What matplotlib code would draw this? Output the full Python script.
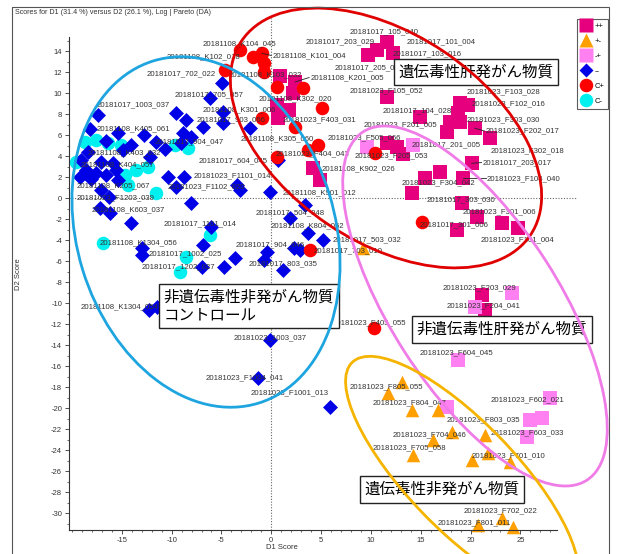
import matplotlib.pyplot as plt
from matplotlib.patches import Ellipse, Rectangle
from matplotlib.transforms import Affine2D
from matplotlib.lines import Line2D
from matplotlib.ticker import FixedLocator

plt.rcParams['font.family'] = ['Liberation Sans', 'DejaVu Sans']
plt.rcParams['axes.unicode_minus'] = False
JP = ['Noto Sans CJK JP', 'DejaVu Sans']

# -----------------------------
# Scores (D1, D2) per class
# -----------------------------
# ++  genotoxic hepatocarcinogens
pp_x = [0.89, 2.40, 2.20, 0.59, 1.80, 0.69, 4.23, 4.90, 10.59, 11.59, 9.75, 12.26,
        11.59, 14.93, 18.95, 19.78, 18.78, 17.94, 17.61, 18.95, 20.45, 21.95, 11.62,
        12.63, 13.23, 16.94, 15.44, 14.10, 19.28, 20.12, 19.12, 20.62, 18.62, 23.13,
        24.79, 21.12, 21.45]
pp_y = [11.65, 11.08, 10.03, 8.89, 8.41, 7.65, 2.86, 1.74, 14.12, 14.91, 13.65, 13.81,
        9.68, 7.77, 9.05, 8.89, 8.10, 7.30, 6.34, 7.30, 6.67, 5.71, 5.27,
        4.89, 4.22, 2.53, 1.90, 0.48, 1.90, 3.33, -0.48, -1.75, -3.02, -2.38,
        -2.86, -9.21, -10.64]

# +-  genotoxic non-carcinogens
pm_x = [11.76, 13.10, 14.10, 16.77, 18.11, 16.27, 14.26, 21.45, 21.79, 20.12, 23.96,
        23.13, 24.29, 20.75, 9.25]
pm_y = [-18.57, -17.47, -20.16, -20.16, -22.23, -23.02, -24.45, -22.54, -24.29, -24.92,
        -25.09, -30.48, -31.28, -31.11, -4.76]

# -+  non-genotoxic hepatocarcinogens
mp_x = [18.78, 27.97, 27.14, 25.97, 25.64, 17.61, 14.26, 9.59, 24.13, 20.45]
mp_y = [-15.40, -19.05, -20.95, -21.11, -22.70, -19.85, 5.08, 4.91, -9.05, -10.32]

# --  non-genotoxic non-carcinogens
mm_x = [-17.39, -18.23, -15.39, -12.82, -16.56, -14.05, -14.88, -11.61, -10.71, -18.40,
        -12.22, -19.07, -17.06, -15.89, -17.56, -16.56, -19.24, -18.06, -15.39, -10.37,
        -9.54, -8.71, -17.06, -9.54, -8.54, -6.86, -8.87, -8.03, -9.04, -4.85,
        -6.20, -4.85, -8.03, -17.23, -16.23, -14.05, -6.03, -6.86, -18.57, -15.56,
        -4.95, -2.12, 0.72, -3.45, -0.11, 3.40, 1.90, -3.12, 3.73, 5.24,
        2.23, 2.90, -0.44, -0.78, 1.22, -3.62, -4.79, -6.96, -12.98, -12.98,
        -16.33, -12.32, -11.47, -0.11, -1.31, 5.91]
mm_y = [7.93, 6.57, 6.19, 6.03, 5.49, 5.08, 4.60, 5.33, 4.67, 4.44,
        3.96, 3.64, 3.49, 3.33, 2.38, 2.22, 2.00, 1.81, 1.74, 2.06,
        1.10, 2.00, 0.79, 8.10, 7.46, 6.82, 6.19, 5.87, 5.24, 8.25,
        9.52, 7.14, -0.48, -0.95, -1.43, -2.38, -2.70, -4.45, 2.70, 2.70,
        11.01, 6.67, 3.65, 1.27, 0.63, -0.64, -1.90, 0.79, -3.33, -3.97,
        -4.76, -4.92, -5.09, -5.88, -6.83, -5.71, -6.51, -6.51, -4.76, -5.40,
        0.15, -10.64, -10.32, -13.50, -17.11, -19.85]

# C+  positive controls
cp_x = [-3.12, -1.79, -0.94, -0.78, -0.78, -4.62, 0.56, 3.23, 5.08, -0.94, 2.40,
        3.73, 4.73, 0.56, 10.42, 15.11, 10.26, 3.90]
cp_y = [14.12, 13.49, 13.81, 12.86, 12.06, 12.22, 10.63, 10.48, 8.63, 7.62, 6.82,
        4.60, 5.08, 3.96, 4.29, -2.23, -12.38, -4.92]

# C-  negative controls
cm_x = [-18.74, -17.56, -16.39, -15.06, -19.57, -13.55, -12.38, -9.71, -8.37, -11.54,
        -14.38, -16.89, -6.20, -8.54, -14.65, -9.14]
cm_y = [5.39, 5.55, 5.24, 5.08, 3.49, 2.70, 3.01, 5.08, 4.76, 0.48,
        1.27, -4.29, -3.50, -5.56, 2.22, -6.99]

# sample names and where they are written
sample_labels = [
    ("20181108_K104_045", -6.9, 14.7), ("20181108_K102_018", -10.5, 13.5),
    ("20181017_702_022", -12.5, 11.9), ("20181017_705_057", -9.7, 9.9),
    ("20181017_1003_037", -17.5, 8.9), ("20181108_K301_006", -6.9, 8.4),
    ("20181017_903_066", -7.5, 7.5), ("20181108_K405_061", -17.5, 6.6),
    ("20181017_904_047", -11.7, 5.4), ("20181108_K403_032", -18.4, 4.3),
    ("20181108_K404_057", -19.1, 3.2), ("20181108_K205_067", -19.5, 1.2),
    ("20181023_F1203_039", -19.5, 0.0), ("20181108_K603_037", -18.0, -1.1),
    ("20181017_1101_014", -10.8, -2.4), ("20181108_K1304_056", -17.2, -4.2),
    ("20181017_1002_025", -12.3, -5.3), ("20181017_1202_027", -13.0, -6.5),
    ("20181108_K1304_054", -19.1, -10.3), ("20181017_604_045", -7.3, 3.6),
    ("20181023_F1101_014", -7.8, 2.1), ("20181023_F1102_020", -10.4, 1.1),
    ("20181108_K901_012", 1.1, 0.5), ("20181017_504_048", -1.6, -1.4),
    ("20181108_K804_052", -0.1, -2.6), ("20181017_503_032", 6.2, -4.0),
    ("20181017_703_010", 4.2, -5.0), ("20181017_904_046", -3.6, -4.4),
    ("20181017_803_035", -2.3, -6.2), ("20181023_1003_037", -3.8, -13.3),
    ("20181023_F1004_041", -6.6, -17.1), ("20181023_F1001_013", -2.1, -18.5),
    ("20181023_F405_055", 6.2, -11.9), ("20181023_F604_045", 14.9, -14.7),
    ("20181023_F805_055", 7.9, -18.0), ("20181023_F804_047", 10.2, -19.5),
    ("20181023_F803_035", 17.6, -21.1), ("20181023_F704_046", 12.2, -22.5),
    ("20181023_F705_058", 10.2, -23.8), ("20181023_F701_010", 20.1, -24.5),
    ("20181023_F602_021", 22.0, -19.2), ("20181023_F603_033", 22.0, -22.3),
    ("20181023_F702_022", 19.3, -29.8), ("20181023_F801_011", 16.7, -30.9),
    ("20181023_F203_029", 17.2, -8.5), ("20181023_F204_041", 17.6, -10.2),
    ("20181023_F101_004", 21.0, -4.0), ("20181023_F301_006", 19.2, -1.3),
    ("20181017_301_006", 14.9, -2.5), ("20181017_303_030", 15.6, -0.1),
    ("20181023_F304_042", 13.1, 1.5), ("20181023_F104_040", 21.6, 1.9),
    ("20181017_203_017", 21.2, 3.4), ("20181023_F302_018", 22.0, 4.5),
    ("20181023_F202_017", 21.5, 6.4), ("20181023_F303_030", 19.6, 7.5),
    ("20181023_F102_016", 20.1, 9.0), ("20181023_F103_028", 19.6, 10.1),
    ("20181017_201_005", 14.1, 5.1), ("20181017_104_028", 11.2, 8.3),
    ("20181023_F201_005", 9.3, 7.0), ("20181023_F105_052", 7.9, 10.2),
    ("20181023_F505_066", 5.7, 5.8), ("20181023_F205_053", 8.4, 4.0),
    ("20181108_K902_026", 5.1, 2.8), ("20181023_F404_043", 0.4, 4.2),
    ("20181108_K305_060", -3.1, 5.7), ("20181023_F403_031", 1.1, 7.5),
    ("20181108_K302_020", -1.3, 9.5), ("20181108_K201_005", 3.9, 11.5),
    ("20181108_K103_032", -4.3, 11.8), ("20181108_K101_004", 0.1, 13.6),
    ("20181017_203_029", 3.4, 14.9), ("20181017_105_040", 7.9, 15.9),
    ("20181017_101_004", 13.6, 14.9), ("20181017_103_016", 12.2, 13.8),
    ("20181017_205_054", 6.4, 12.4),
]

# labels tied to their point by a short leader
leaders = [
    ("20181108_K201_005", pp_x, pp_y, 1),
    ("20181108_K101_004", cp_x, cp_y, 2),
    ("20181023_F104_040", pp_x, pp_y, 28),
    ("20181017_203_017", pp_x, pp_y, 29),
    ("20181023_F202_017", pp_x, pp_y, 20),
]

W, H = 618, 554
fig = plt.figure(figsize=(W / 100, H / 100), dpi=100)
ax = fig.add_axes([69 / W, 24 / H, 508 / W, 512 / H])

# pixel space of the whole figure, y pointing down
px = Affine2D().scale(1 / 100, -1 / 100).translate(0, H / 100) + fig.dpi_scale_trans

groups = [
    ("++", pp_x, pp_y, "s", 88, "#E6007E"),
    ("-+", mp_x, mp_y, "s", 88, "#FF80F0"),
    ("+-", pm_x, pm_y, "^", 95, "#FFA000"),
    ("C-", cm_x, cm_y, "o", 95, "#00F0F0"),
    ("--", mm_x, mm_y, "D", 58, "#0000E6"),
    ("C+", cp_x, cp_y, "o", 95, "#FF0000"),
]
for name, gx, gy, mk, sz, col in groups:
    ax.scatter(gx, gy, marker=mk, s=sz, c=col, linewidths=0, zorder=2, clip_on=False)

label_pos = {}
for text, tx, ty in sample_labels:
    ax.text(tx, ty, text, fontsize=5.6, color="#333333", ha="left", va="center", zorder=4)
    label_pos[text] = (tx, ty)

for text, gx, gy, i in leaders:
    tx, ty = label_pos[text]
    ax.plot([gx[i], tx - 0.1], [gy[i], ty], color="#222222", lw=0.6, zorder=3)

ax.axhline(0, color="#666666", lw=0.8, ls=(0, (1, 1.5)), zorder=1)
ax.axvline(0, color="#666666", lw=0.8, ls=(0, (1, 1.5)), zorder=1)

ax.set_xlim(-20.3, 30.68)
ax.set_ylim(-31.6, 17.17)
for s in ["top", "right"]:
    ax.spines[s].set_visible(False)
ax.spines["bottom"].set_bounds(-20.3, 28.7)
ax.spines["left"].set_bounds(-31.6, 15.36)
for s in ["bottom", "left"]:
    ax.spines[s].set_color("#333333")
    ax.spines[s].set_linewidth(0.8)

ax.set_xticks([-15, -10, -5, 0, 5, 10, 15, 20, 25])
ax.set_yticks(list(range(-30, 15, 2)))
ax.xaxis.set_minor_locator(FixedLocator(range(-20, 29)))
ax.yaxis.set_minor_locator(FixedLocator(range(-31, 16)))
ax.tick_params(which="major", length=3, width=0.6, labelsize=5.5, colors="#333333", pad=2)
ax.tick_params(which="minor", length=1.5, width=0.5, colors="#333333")

ax.set_xlabel("D1 Score", fontsize=5.5, color="#333333")
ax.xaxis.set_label_coords(0.42, -0.028)
ax.set_ylabel("D2 Score", fontsize=5.5, color="#333333")
ax.yaxis.set_label_coords(-0.092, 0.5)

fig.text(15 / W, 1 - 13 / H, "Scores for D1 (31.4 %) versus D2 (26.1 %), Log | Pareto (DA)",
         fontsize=5.1, color="#333333", va="center")

# class legend
handles = [Line2D([], [], ls="none", marker=g[3], ms=(g[4] ** 0.5), mfc=g[5], mec="none")
           for g in [groups[0], groups[2], groups[1], groups[4], groups[5], groups[3]]]
labels = ["++", "+-", "-+", "--", "C+", "C-"]
leg = ax.legend(handles, labels, loc="upper left", bbox_to_anchor=(577 / W, 1 - 19 / H),
                bbox_transform=fig.transFigure, frameon=True, fancybox=False,
                fontsize=5.5, handlelength=1.4, handletextpad=0.4, borderpad=0.5,
                labelspacing=1.0, borderaxespad=0)
leg.get_frame().set_edgecolor("#333333")
leg.get_frame().set_linewidth(0.8)

# class boxes
box = dict(boxstyle="square,pad=0.3", fc="white", ec="#222222", lw=1.0)
ax.text(20.55, 12.02, "遺伝毒性肝発がん物質", fontsize=11.2, family=JP, ha="center",
        va="center", bbox=box, zorder=6)
ax.text(-2.27, -10.26, "非遺伝毒性非発がん物質\nコントロール", fontsize=11.2, family=JP,
        ha="center", va="center", multialignment="left", bbox=box, zorder=6, linespacing=1.1)
ax.text(23.16, -12.50, "非遺伝毒性肝発がん物質", fontsize=11.2, family=JP, ha="center",
        va="center", bbox=box, zorder=6)
ax.text(17.14, -27.73, "遺伝毒性非発がん物質", fontsize=11.2, family=JP, ha="center",
        va="center", bbox=box, zorder=6)

# group outlines
rings = [
    ((386, 138), 174, 104, 33.9, "#E00000"),
    ((206, 232), 179, 129, 72.9, "#1EA5E0"),
    ((475, 306), 207, 84, 57.3, "#F07CE8"),
    ((462, 476), 158, 54, 46.0, "#F5B400"),
]
for (cx, cy), a, b, ang, col in rings:
    fig.add_artist(Ellipse((cx, cy), 2 * a, 2 * b, angle=ang, transform=px, fill=False,
                           ec=col, lw=2.0, zorder=5))

# plot window frame
fig.add_artist(Rectangle((12, 7), 597, 600, transform=px, fill=False, ec="#555555",
                         lw=0.8, zorder=5))

fig.savefig("out.png", dpi=100)
